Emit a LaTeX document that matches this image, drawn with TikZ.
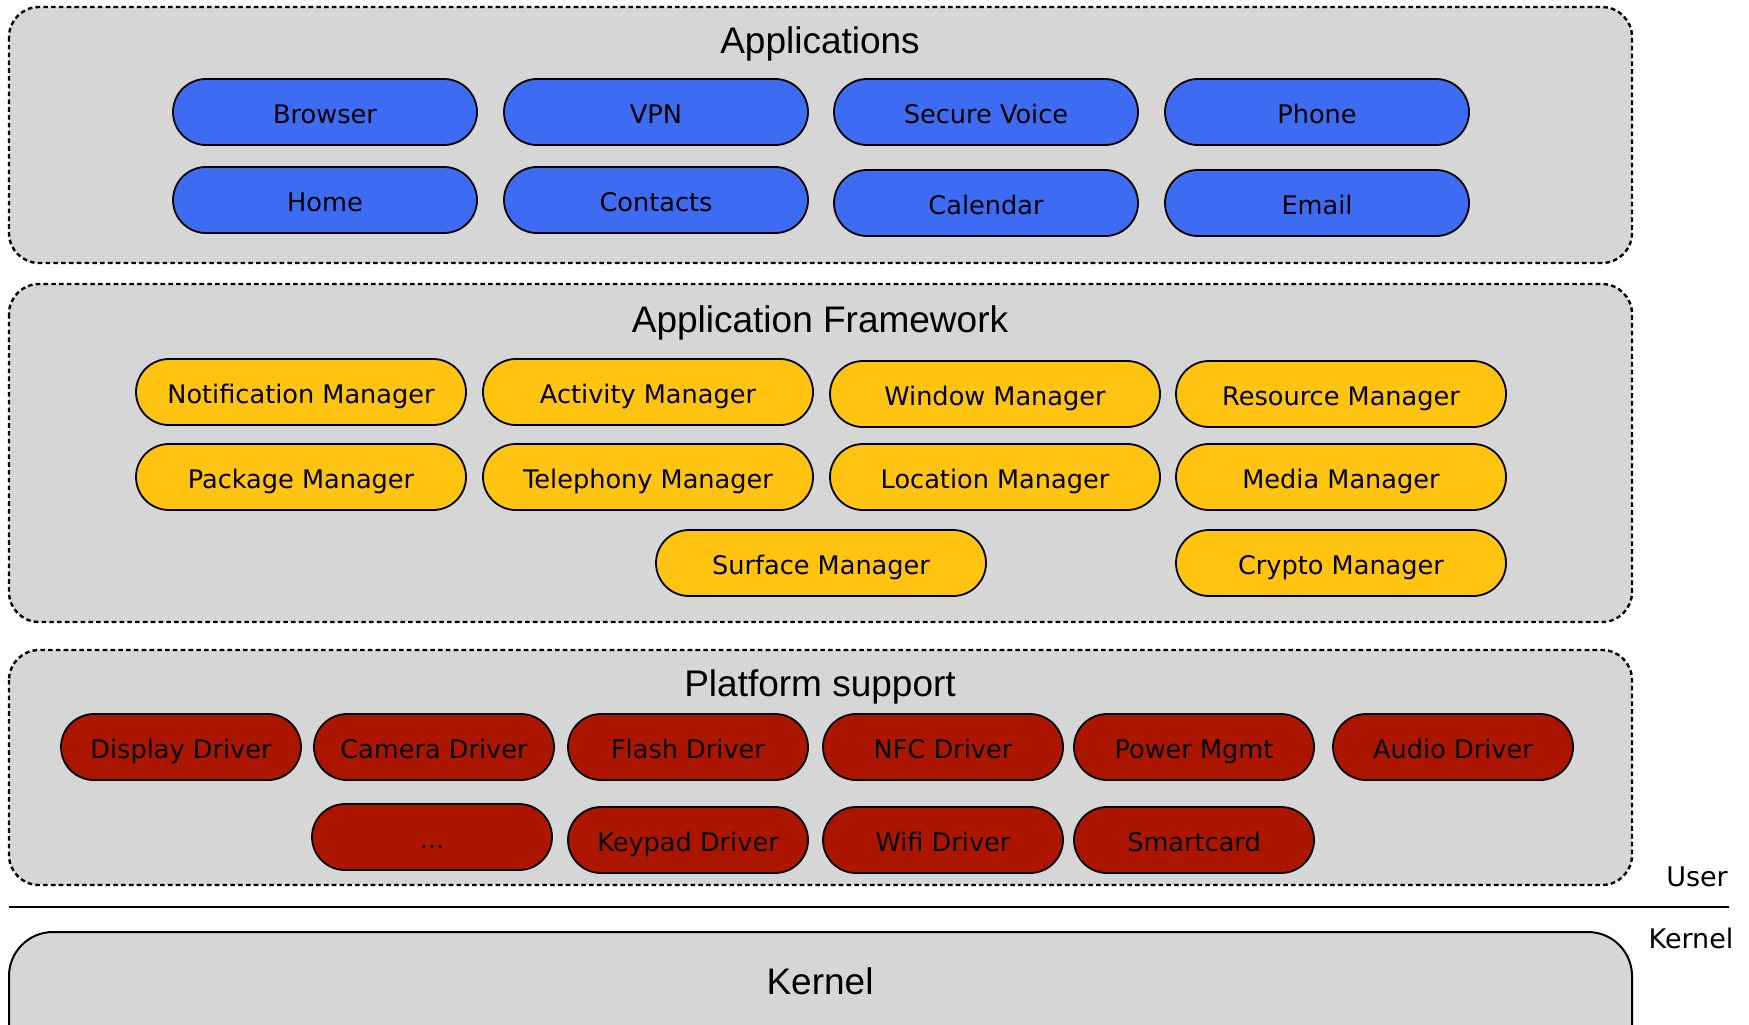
\documentclass[tikz,border=0pt]{standalone}
\usepackage{fontspec}
\setmainfont{DejaVu Sans}
\newfontfamily\titlefont{Liberation Sans}
\definecolor{layergray}{RGB}{214,214,214}
\definecolor{appblue}{RGB}{61,108,242}
\definecolor{fwyellow}{RGB}{255,196,18}
\definecolor{drvred}{RGB}{172,22,0}
\begin{document}
\begin{tikzpicture}[x=0.5pt,y=-0.5pt,
  layer/.style={fill=layergray, draw=black, line width=1.2pt, dash pattern=on 2.3pt off 1.6pt, rounded corners=15pt},
  kernelbox/.style={fill=layergray, draw=black, line width=1pt, rounded corners=22pt},
  title/.style={font=\titlefont\fontsize{18.5}{20}\selectfont, inner sep=0pt},
  side/.style={font=\fontsize{13.5}{15}\selectfont, inner sep=0pt},
  pill/.style={draw=black, line width=0.9pt, rounded corners=16.5pt, minimum height=33pt, inner sep=0pt,
    text height=12pt, text depth=0.5pt, font=\fontsize{12.8}{14}\selectfont},
  app/.style={pill, fill=appblue, minimum width=152pt},
  fw/.style={pill, fill=fwyellow, minimum width=165pt},
  drv/.style={pill, fill=drvred, minimum width=120pt}]
\useasboundingbox (0,0) rectangle (1749,1024);
\clip (0,0) rectangle (1749,1024);

% layer backgrounds
\draw[layer] (9,7) rectangle (1632,263);
\draw[layer] (9,284) rectangle (1632,622);
\draw[layer] (9,650) rectangle (1632,885);
\draw[kernelbox] (9,932) rectangle (1632,1080);

% user / kernel split
\coordinate (splitL) at (9,907);
\coordinate (splitR) at (1729,907);
\draw[line width=1pt] (splitL) -- (splitR);
\node[side] (userlbl) at (1697,877) {User};
\node[side] (kernlbl) at (1691,938) {Kernel};

% layer titles
\node[title] (tApps) at (820,44) {Applications};
\node[title] (tFw) at (820,323) {Application Framework};
\node[title] (tPlat) at (820,687) {Platform support};
\node[title] (tKern) at (820,981) {Kernel};

% applications
\node[app] (browser) at (325,112) {Browser};
\node[app] (vpn) at (656,112) {VPN};
\node[app] (voice) at (986,112) {Secure Voice};
\node[app] (phone) at (1317,112) {Phone};
\node[app] (home) at (325,200) {Home};
\node[app] (contacts) at (656,200) {Contacts};
\node[app] (calendar) at (986,203) {Calendar};
\node[app] (email) at (1317,203) {Email};

% application framework
\node[fw] (notif) at (301,392) {Notification Manager};
\node[fw] (activity) at (648,392) {Activity Manager};
\node[fw] (window) at (995,394) {Window Manager};
\node[fw] (resource) at (1341,394) {Resource Manager};
\node[fw] (package) at (301,477) {Package Manager};
\node[fw] (telephony) at (648,477) {Telephony Manager};
\node[fw] (location) at (995,477) {Location Manager};
\node[fw] (media) at (1341,477) {Media Manager};
\node[fw] (surface) at (821,563) {Surface Manager};
\node[fw] (crypto) at (1341,563) {Crypto Manager};

% platform support
\node[drv] (display) at (181,747) {Display Driver};
\node[drv] (camera) at (434,747) {Camera Driver};
\node[drv] (flash) at (688,747) {Flash Driver};
\node[drv] (nfc) at (943,747) {NFC Driver};
\node[drv] (power) at (1194,747) {Power Mgmt};
\node[drv] (audio) at (1453,747) {Audio Driver};
\node[drv] (more) at (432,837) {...};
\node[drv] (keypad) at (688,840) {Keypad Driver};
\node[drv] (wifi) at (943,840) {Wifi Driver};
\node[drv] (smartcard) at (1194,840) {Smartcard};
\end{tikzpicture}
\end{document}
